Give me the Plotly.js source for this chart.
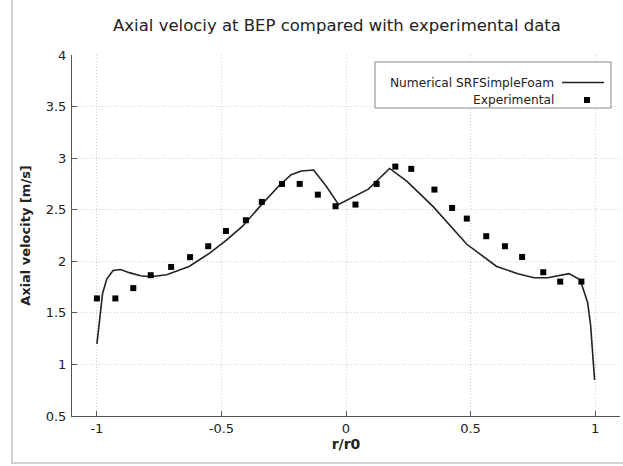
<!DOCTYPE html>
<html>
<head>
<meta charset="utf-8">
<script src="https://cdn.plot.ly/plotly-3.0.1.min.js"></script>
<style>html,body{margin:0;padding:0;background:#fff;}#chart{width:623px;height:466px;}</style>
</head>
<body>
<div id="chart"></div>
<script>
// Numerical SRFSimpleFoam line
const numX = [-1.0, -0.99, -0.977, -0.96, -0.935, -0.905, -0.87, -0.825, -0.785, -0.72, -0.63, -0.55, -0.48, -0.415, -0.35, -0.27, -0.22, -0.18, -0.13, -0.08, -0.03, 0.09, 0.175, 0.245, 0.35, 0.485, 0.605, 0.69, 0.755, 0.81, 0.895, 0.94, 0.97, 0.982, 0.995, 0.998];
const numY = [1.2, 1.43, 1.69, 1.83, 1.91, 1.92, 1.89, 1.86, 1.85, 1.87, 1.95, 2.075, 2.205, 2.34, 2.52, 2.73, 2.84, 2.875, 2.885, 2.73, 2.55, 2.70, 2.90, 2.775, 2.53, 2.165, 1.95, 1.88, 1.84, 1.84, 1.88, 1.82, 1.6, 1.38, 0.92, 0.85];
// Experimental points
const expX = [-1.0, -0.926, -0.854, -0.784, -0.702, -0.626, -0.553, -0.482, -0.402, -0.338, -0.257, -0.186, -0.113, -0.042, 0.038, 0.123, 0.198, 0.262, 0.355, 0.426, 0.485, 0.563, 0.638, 0.707, 0.792, 0.860, 0.945];
const expY = [1.64, 1.64, 1.74, 1.865, 1.945, 2.04, 2.146, 2.294, 2.398, 2.576, 2.75, 2.75, 2.646, 2.534, 2.55, 2.75, 2.918, 2.896, 2.695, 2.517, 2.414, 2.243, 2.146, 2.042, 1.894, 1.803, 1.803];
// Tick labels
const xTickVals = [-1, -0.5, 0, 0.5, 1];
const xTickText = ["-1", "-0.5", "0", "0.5", "1"];
const yTickVals = [0.5, 1, 1.5, 2, 2.5, 3, 3.5, 4];
const yTickText = ["0.5", "1", "1.5", "2", "2.5", "3", "3.5", "4"];
const legendNames = ["Numerical SRFSimpleFoam", "Experimental"];

const FONT = "DejaVu Sans, Verdana, sans-serif";
const W = 623, H = 466, L = 72, R = 3, T = 55, B = 50;
const px = v => (v - L) / (W - L - R);
const py = v => (H - B - v) / (H - T - B);

const traces = [
  {x: numX, y: numY, type: 'scatter', mode: 'lines', name: legendNames[0],
   line: {color: '#222', width: 1.6}, showlegend: false},
  {x: expX, y: expY, type: 'scatter', mode: 'markers', name: legendNames[1],
   marker: {symbol: 'square', size: 6, color: '#000'}, showlegend: false}
];

const axisCommon = {
  showline: true, linecolor: '#555', linewidth: 1,
  ticks: 'inside', ticklen: 5, tickcolor: '#555',
  showgrid: true, gridcolor: '#cfcfcf', griddash: '1px,2px', gridwidth: 1,
  zeroline: false, tickfont: {family: FONT, size: 13, color: '#222'}
};

const layout = {
  width: W, height: H,
  margin: {l: L, r: R, t: T, b: B},
  paper_bgcolor: '#fff', plot_bgcolor: '#fff',
  showlegend: false,
  title: {text: 'Axial velociy at BEP compared with experimental data',
          font: {family: FONT, size: 16.5, color: '#222'},
          xref: 'paper', x: px(337), xanchor: 'center',
          yref: 'container', y: 1 - 25 / H, yanchor: 'middle'},
  xaxis: Object.assign({}, axisCommon, {
    range: [-1.1, 1.1], tickvals: xTickVals, ticktext: xTickText,
    title: {text: '<b>r/r0</b>', font: {family: FONT, size: 14, color: '#222'}, standoff: 4}
  }),
  yaxis: Object.assign({}, axisCommon, {
    range: [0.5, 4], tickvals: yTickVals, ticktext: yTickText, ticklabelstandoff: 2,
    title: {text: '<b>Axial velocity [m/s]</b>', font: {family: FONT, size: 13, color: '#222'}, standoff: 12}
  }),
  shapes: [
    // outer frame
    {type: 'rect', xref: 'paper', yref: 'paper', x0: px(12), x1: px(640), y0: py(463), y1: py(-20),
     line: {color: '#c4c4c4', width: 1.5}, fillcolor: 'rgba(0,0,0,0)', layer: 'below'},
    // legend box
    {type: 'rect', xref: 'paper', yref: 'paper', x0: px(375), x1: px(611), y0: py(108), y1: py(62),
     line: {color: '#888', width: 1}, fillcolor: '#fff'},
    // legend line sample
    {type: 'line', xref: 'paper', yref: 'paper', x0: px(562), x1: px(604), y0: py(82.5), y1: py(82.5),
     line: {color: '#222', width: 1.6}},
    // legend marker sample
    {type: 'rect', xref: 'paper', yref: 'paper', x0: px(584), x1: px(590), y0: py(97), y1: py(103),
     line: {color: '#000', width: 0}, fillcolor: '#000'}
  ],
  annotations: [
    {text: legendNames[0], xref: 'paper', yref: 'paper', x: px(556), y: py(82.5), xanchor: 'right', yanchor: 'middle',
     showarrow: false, font: {family: FONT, size: 12.2, color: '#222'}},
    {text: legendNames[1], xref: 'paper', yref: 'paper', x: px(556), y: py(100), xanchor: 'right', yanchor: 'middle',
     showarrow: false, font: {family: FONT, size: 12.2, color: '#222'}}
  ]
};

Plotly.newPlot('chart', traces, layout, {displayModeBar: false, staticPlot: true});
</script>
</body>
</html>
